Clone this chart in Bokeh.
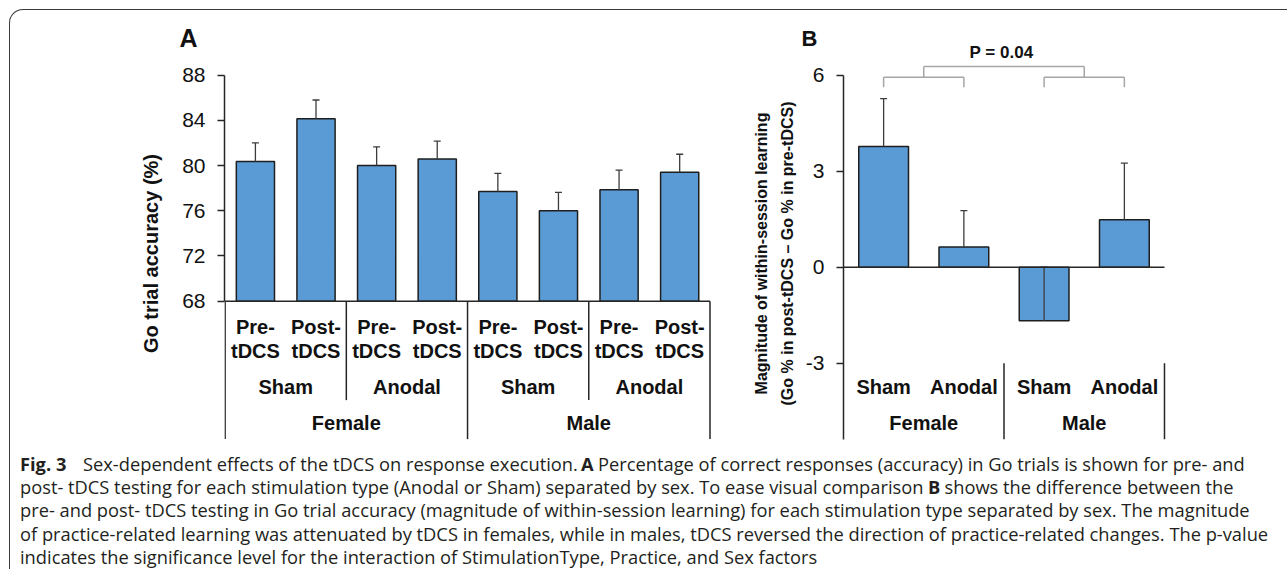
from bokeh.plotting import figure
from bokeh.models import Range1d, FixedTicker
from bokeh.layouts import row, column
from bokeh.core.properties import value
from bokeh.embed import file_html
from bokeh.resources import INLINE

# ---------------- data ----------------
A_SEX = ["Female", "Male"]
A_STIM = ["Sham", "Anodal", "Sham", "Anodal"]
A_PHASE_TOP = ["Pre-", "Post-", "Pre-", "Post-", "Pre-", "Post-", "Pre-", "Post-"]
A_PHASE_BOT = ["tDCS"] * 8
A_MEAN = [80.35, 84.13, 80.0, 80.57, 77.7, 76.0, 77.85, 79.4]
A_SEM = [1.65, 1.67, 1.66, 1.59, 1.6, 1.62, 1.75, 1.6]
A_TICKS = [68, 72, 76, 80, 84, 88]
A_YLABEL = "Go trial accuracy (%)"

B_STIM = ["Sham", "Anodal", "Sham", "Anodal"]
B_SEX = ["Female", "Male"]
B_MEAN = [3.77, 0.63, -1.67, 1.48]
B_SEM = [1.50, 1.14, 1.67, 1.77]
B_TICKS = [-3, 0, 3, 6]
B_TICK_TEXT = {-3: "-3", 0: "0", 3: "3", 6: "6"}
B_YLABEL = "Magnitude of within-session learning\n(Go % in post-tDCS \u2013 Go % in pre-tDCS)"
P_TEXT = "P = 0.04"
PANEL_LABELS = ["A", "B"]

CAPTION = [
    [("Fig. 3", True), ("Sex-dependent effects of the tDCS on response execution.", False), ("A", True),
     ("Percentage of correct responses (accuracy) in Go trials is shown for pre- and", False)],
    [("post- tDCS testing for each stimulation type (Anodal or Sham) separated by sex. To ease visual comparison", False),
     ("B", True), ("shows the difference between the", False)],
    [("pre- and post- tDCS testing in Go trial accuracy (magnitude of within-session learning) for each stimulation type separated by sex. The magnitude", False)],
    [("of practice-related learning was attenuated by tDCS in females, while in males, tDCS reversed the direction of practice-related changes. The p-value", False)],
    [("indicates the significance level for the interaction of StimulationType, Practice, and Sex factors", False)],
]
CAP_X = [[9.5, 72.5, 570.5, 587.5], [9.5, 917.5, 934], [9.5], [9.5], [9.5]]
CAP_Y = [19.5, 42.5, 65.5, 89.5, 112.5]

# ---------------- style ----------------
FONT = "Liberation Sans"
CAP_FONT = "Open Sans"
BAR_FILL = "#5b9bd5"
BAR_LINE = "#1e1e1e"
ERR = "#3c3c3c"
AX = "#262626"
TXT = "#111111"
BRK = "#a6a6a6"
W_A, W_B = 740, 535
HEAD_H, FRAME_H, CAP_H = 53, 380, 126


def style_axis(ax, ticks, bounds, label, label_size, tick_standoff, standoff):
    ax.ticker = FixedTicker(ticks=ticks)
    ax.bounds = bounds
    ax.axis_line_color = AX
    ax.axis_line_width = 1.5
    ax.major_tick_line_color = AX
    ax.major_tick_line_width = 1.5
    ax.major_tick_in = 0
    ax.major_tick_out = 7
    ax.minor_tick_line_color = None
    ax.major_label_text_font = FONT
    ax.major_label_text_font_size = "21px"
    ax.major_label_text_color = TXT
    ax.major_label_standoff = tick_standoff
    ax.axis_label = label
    ax.axis_label_text_font = FONT
    ax.axis_label_text_font_style = "bold"
    ax.axis_label_text_font_size = label_size
    ax.axis_label_text_color = TXT
    ax.axis_label_standoff = standoff


def bare(p):
    p.outline_line_color = None
    p.grid.visible = False
    p.background_fill_color = None
    p.border_fill_color = None


# ---------------- header (panel letters, p-value) ----------------
ph = figure(width=W_A + W_B, height=HEAD_H, x_range=Range1d(0, W_A + W_B), y_range=Range1d(HEAD_H, 0),
            min_border=0, x_axis_location=None, y_axis_location=None,
            toolbar_location=None, output_backend="svg")
bare(ph)
hkw = dict(text_font=value(FONT), text_font_style="bold", text_color=TXT,
           text_align="center", text_baseline="middle")
ph.text(x=[178], y=[27.5], text=[PANEL_LABELS[0]], text_font_size="25px", **hkw)
ph.text(x=[799], y=[28], text=[PANEL_LABELS[1]], text_font_size="22px", **hkw)
ph.text(x=[991], y=[41.5], text=[P_TEXT], text_font_size="17px", **hkw)

# ---------------- panel A ----------------
A_SCALE = 11.3            # px per unit
A_BASE = A_TICKS[0]
xa = list(range(len(A_MEAN)))
pa = figure(frame_width=487, frame_height=FRAME_H,
            x_range=Range1d(-0.51, 7.525), y_range=Range1d(55.4, 89.03),
            min_border_left=214, min_border_right=W_A - 214 - 487, min_border_top=0, min_border_bottom=0,
            x_axis_location=None, toolbar_location=None, output_backend="svg")
bare(pa)
style_axis(pa.yaxis[0], A_TICKS, (A_TICKS[0], A_TICKS[-1]), A_YLABEL, "20px", 12, 17)

pa.vbar(x=xa, top=A_MEAN, bottom=A_BASE, width=0.63, fill_color=BAR_FILL,
        line_color=BAR_LINE, line_width=1.5)
a_hi = [m + s for m, s in zip(A_MEAN, A_SEM)]
pa.segment(x0=xa, y0=A_MEAN, x1=xa, y1=a_hi, line_color=ERR, line_width=1.3)
pa.scatter(x=xa, y=a_hi, marker="dash", size=7, line_color=ERR, line_width=1.3)


def a_below(px):
    return A_BASE - px / A_SCALE


n = len(A_MEAN)
pa.segment(x0=[-0.5], y0=[A_BASE], x1=[n - 0.5], y1=[A_BASE], line_color=AX, line_width=1.5)
stim_sep = [1.5, 5.5]
sex_sep = [-0.5, 3.5, 7.5]
pa.segment(x0=stim_sep, y0=[A_BASE] * 2, x1=stim_sep, y1=[a_below(99)] * 2, line_color=AX, line_width=1.5)
pa.segment(x0=sex_sep, y0=[A_BASE] * 3, x1=sex_sep, y1=[a_below(138)] * 3, line_color=AX, line_width=1.5)

tkw = dict(text_font=value(FONT), text_font_style="bold", text_font_size="20px",
           text_color=TXT, text_align="center", text_baseline="middle")
pa.text(x=xa, y=[a_below(26)] * n, text=A_PHASE_TOP, **tkw)
pa.text(x=xa, y=[a_below(50)] * n, text=A_PHASE_BOT, **tkw)
pa.text(x=[0.5, 2.5, 4.5, 6.5], y=[a_below(86)] * 4, text=A_STIM, **tkw)
pa.text(x=[1.5, 5.5], y=[a_below(122)] * 2, text=A_SEX, **tkw)

# ---------------- panel B ----------------
xb = list(range(len(B_MEAN)))
B_LEFT = 90
pb = figure(frame_width=323, frame_height=FRAME_H,
            x_range=Range1d(-0.5, 3.525), y_range=Range1d(-5.51, 6.366),
            min_border_left=B_LEFT, min_border_right=W_B - B_LEFT - 323, min_border_top=0, min_border_bottom=0,
            x_axis_location=None, toolbar_location=None, output_backend="svg")
bare(pb)
style_axis(pb.yaxis[0], B_TICKS, (-5.38, B_TICKS[-1]), B_YLABEL, "16px", 12, 7)
pb.yaxis[0].major_label_overrides = B_TICK_TEXT
pb.yaxis[0].axis_label_text_line_height = 1.5

pb.vbar(x=xb, top=B_MEAN, bottom=0, width=0.62, fill_color=BAR_FILL,
        line_color=BAR_LINE, line_width=1.5)
b_hi = [m + s for m, s in zip(B_MEAN, B_SEM)]
pb.segment(x0=xb, y0=B_MEAN, x1=xb, y1=b_hi, line_color=ERR, line_width=1.3)
pb.scatter(x=xb, y=b_hi, marker="dash", size=7, line_color=ERR, line_width=1.3)

pb.segment(x0=[-0.5], y0=[0], x1=[len(B_MEAN) - 0.5], y1=[0], line_color=AX, line_width=1.5)
pb.segment(x0=[1.5, 3.5], y0=[B_TICKS[0]] * 2, x1=[1.5, 3.5], y1=[-5.38] * 2, line_color=AX, line_width=1.5)
pb.text(x=xb, y=[-3.75] * 4, text=B_STIM, **tkw)
pb.text(x=[0.5, 2.5], y=[-4.88] * 2, text=B_SEX, **tkw)

# significance brackets
leg_lo, leg_mid, leg_hi = 5.625, 5.94, 6.27
pairs = [(0, 1), (2, 3)]
bx0, by0, bx1, by1 = [], [], [], []
for a, b in pairs:
    bx0 += [a, b, a]; by0 += [leg_lo, leg_lo, leg_mid]
    bx1 += [a, b, b]; by1 += [leg_mid, leg_mid, leg_mid]
mids = [(a + b) / 2 for a, b in pairs]
bx0 += [mids[0], mids[1], mids[0]]; by0 += [leg_mid, leg_mid, leg_hi]
bx1 += [mids[0], mids[1], mids[1]]; by1 += [leg_hi, leg_hi, leg_hi]
pb.segment(x0=bx0, y0=by0, x1=bx1, y1=by1, line_color=BRK, line_width=1.5)

# ---------------- caption ----------------
CW = W_A + W_B
pc = figure(width=CW, height=CAP_H, x_range=Range1d(0, CW), y_range=Range1d(CAP_H, 0),
            min_border=0, x_axis_location=None, y_axis_location=None,
            toolbar_location=None, output_backend="svg")
bare(pc)
for i, segs in enumerate(CAPTION):
    for j, (txt, bold) in enumerate(segs):
        pc.text(x=[CAP_X[i][j]], y=[CAP_Y[i]], text=[txt], text_font=value(CAP_FONT),
                text_font_style="bold" if bold else "normal", text_font_size="18.3px",
                text_color="#231f20", text_align="left", text_baseline="middle")

layout = column(ph, row(pa, pb), pc, margin=(9, 0, 0, 9),
                styles={"border-top": "1.5px solid #3a3a3a", "border-left": "1.5px solid #3a3a3a",
                        "border-top-left-radius": "14px"})

open("out.html", "w").write(file_html(layout, INLINE))
